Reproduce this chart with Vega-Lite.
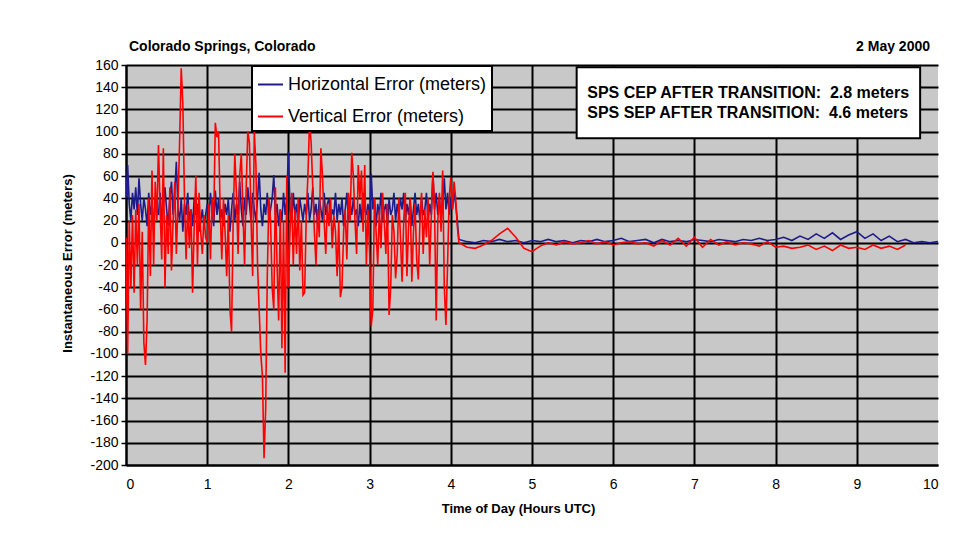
{
  "$schema": "https://vega.github.io/schema/vega-lite/v6.json",
  "width": 812,
  "height": 400,
  "autosize": {"type": "none"},
  "padding": {"left": 126, "top": 65, "right": 36, "bottom": 87},
  "background": "white",
  "resolve": {"axis": {"x": "independent", "y": "independent"}},
  "config": {
    "font": "Liberation Sans",
    "view": {"fill": "#c8c8c8", "stroke": null},
    "legend": {
      "orient": "none", "legendX": 126, "legendY": 1,
      "fillColor": "white", "strokeColor": "black", "strokeWidth": 2,
      "padding": 5, "rowPadding": 9, "labelFontSize": 18, "labelColor": "black", "labelLimit": 400,
      "symbolType": "stroke", "symbolSize": 625, "symbolStrokeWidth": 2, "labelOffset": 4,
      "title": null
    }
  },
  "layer": [
    {
      "data": {"values": [
        {"t":0.00,"h":40,"v":5},{"t":0.02,"h":70,"v":-100},{"t":0.04,"h":35,"v":20},{"t":0.06,"h":20,"v":-40},{"t":0.08,"h":45,"v":25},{"t":0.10,"h":30,"v":-45},{"t":0.12,"h":50,"v":30},{"t":0.14,"h":25,"v":-20},{"t":0.16,"h":58,"v":35},{"t":0.18,"h":35,"v":-60},
        {"t":0.20,"h":20,"v":10},{"t":0.22,"h":40,"v":-90},{"t":0.24,"h":30,"v":-110},{"t":0.26,"h":15,"v":-70},{"t":0.28,"h":45,"v":40},{"t":0.30,"h":25,"v":-30},{"t":0.32,"h":35,"v":65},{"t":0.34,"h":10,"v":-20},{"t":0.36,"h":40,"v":55},{"t":0.38,"h":30,"v":20},
        {"t":0.40,"h":25,"v":88},{"t":0.42,"h":45,"v":30},{"t":0.44,"h":20,"v":-15},{"t":0.46,"h":35,"v":85},{"t":0.48,"h":50,"v":-40},{"t":0.50,"h":30,"v":25},{"t":0.52,"h":15,"v":-10},{"t":0.54,"h":40,"v":50},{"t":0.56,"h":55,"v":-25},{"t":0.58,"h":25,"v":20},
        {"t":0.60,"h":45,"v":55},{"t":0.62,"h":73,"v":-10},{"t":0.64,"h":30,"v":35},{"t":0.66,"h":20,"v":90},{"t":0.68,"h":40,"v":157},{"t":0.70,"h":10,"v":125},{"t":0.72,"h":35,"v":40},{"t":0.74,"h":25,"v":-15},{"t":0.76,"h":45,"v":35},{"t":0.78,"h":20,"v":-5},
        {"t":0.80,"h":30,"v":30},{"t":0.82,"h":15,"v":-45},{"t":0.84,"h":40,"v":15},{"t":0.86,"h":25,"v":60},{"t":0.88,"h":35,"v":-20},{"t":0.90,"h":10,"v":45},{"t":0.92,"h":20,"v":10},{"t":0.94,"h":30,"v":-10},{"t":0.96,"h":15,"v":25},{"t":0.98,"h":25,"v":5},
        {"t":1.00,"h":35,"v":0},{"t":1.02,"h":20,"v":35},{"t":1.04,"h":45,"v":-15},{"t":1.06,"h":30,"v":40},{"t":1.08,"h":15,"v":20},{"t":1.10,"h":47,"v":108},{"t":1.12,"h":25,"v":95},{"t":1.14,"h":40,"v":100},{"t":1.16,"h":20,"v":30},{"t":1.18,"h":30,"v":-15},
        {"t":1.20,"h":15,"v":40},{"t":1.22,"h":35,"v":10},{"t":1.24,"h":25,"v":-30},{"t":1.26,"h":40,"v":25},{"t":1.28,"h":10,"v":-60},{"t":1.30,"h":30,"v":-80},{"t":1.32,"h":45,"v":20},{"t":1.34,"h":20,"v":80},{"t":1.36,"h":35,"v":45},{"t":1.38,"h":25,"v":-10},
        {"t":1.40,"h":55,"v":60},{"t":1.42,"h":30,"v":80},{"t":1.44,"h":15,"v":30},{"t":1.46,"h":40,"v":-20},{"t":1.48,"h":25,"v":50},{"t":1.50,"h":50,"v":100},{"t":1.52,"h":35,"v":90},{"t":1.54,"h":20,"v":20},{"t":1.56,"h":45,"v":-30},{"t":1.58,"h":30,"v":100},
        {"t":1.60,"h":20,"v":70},{"t":1.62,"h":40,"v":-20},{"t":1.64,"h":63,"v":-60},{"t":1.66,"h":30,"v":-100},{"t":1.68,"h":15,"v":-120},{"t":1.70,"h":35,"v":-194},{"t":1.72,"h":25,"v":-150},{"t":1.74,"h":45,"v":-30},{"t":1.76,"h":20,"v":40},{"t":1.78,"h":30,"v":20},
        {"t":1.80,"h":40,"v":-40},{"t":1.82,"h":61,"v":-60},{"t":1.84,"h":25,"v":50},{"t":1.86,"h":35,"v":-20},{"t":1.88,"h":15,"v":-70},{"t":1.90,"h":30,"v":30},{"t":1.92,"h":20,"v":-95},{"t":1.94,"h":45,"v":20},{"t":1.96,"h":25,"v":-117},{"t":1.98,"h":40,"v":60},
        {"t":2.00,"h":82,"v":-40},{"t":2.02,"h":30,"v":10},{"t":2.04,"h":20,"v":45},{"t":2.06,"h":45,"v":-20},{"t":2.08,"h":25,"v":30},{"t":2.10,"h":35,"v":-10},{"t":2.12,"h":15,"v":40},{"t":2.14,"h":40,"v":-25},{"t":2.16,"h":30,"v":20},{"t":2.18,"h":20,"v":-47},
        {"t":2.20,"h":35,"v":-45},{"t":2.22,"h":25,"v":25},{"t":2.24,"h":45,"v":60},{"t":2.26,"h":20,"v":108},{"t":2.28,"h":30,"v":90},{"t":2.30,"h":50,"v":50},{"t":2.32,"h":25,"v":10},{"t":2.34,"h":35,"v":-20},{"t":2.36,"h":15,"v":30},{"t":2.38,"h":40,"v":5},
        {"t":2.40,"h":30,"v":85},{"t":2.42,"h":20,"v":60},{"t":2.44,"h":45,"v":20},{"t":2.46,"h":25,"v":-10},{"t":2.48,"h":35,"v":35},{"t":2.50,"h":40,"v":15},{"t":2.52,"h":20,"v":40},{"t":2.54,"h":30,"v":-5},{"t":2.56,"h":25,"v":25},{"t":2.58,"h":45,"v":10},
        {"t":2.60,"h":20,"v":-30},{"t":2.62,"h":35,"v":20},{"t":2.64,"h":25,"v":-49},{"t":2.66,"h":40,"v":-40},{"t":2.68,"h":15,"v":10},{"t":2.70,"h":30,"v":30},{"t":2.72,"h":45,"v":-15},{"t":2.74,"h":20,"v":45},{"t":2.76,"h":35,"v":20},{"t":2.78,"h":25,"v":81},
        {"t":2.80,"h":40,"v":60},{"t":2.82,"h":25,"v":20},{"t":2.84,"h":30,"v":-10},{"t":2.86,"h":15,"v":70},{"t":2.88,"h":35,"v":40},{"t":2.90,"h":20,"v":65},{"t":2.92,"h":45,"v":10},{"t":2.94,"h":30,"v":70},{"t":2.96,"h":25,"v":-20},{"t":2.98,"h":35,"v":30},
        {"t":3.00,"h":20,"v":-10},{"t":3.02,"h":62,"v":-75},{"t":3.04,"h":30,"v":-60},{"t":3.06,"h":40,"v":40},{"t":3.08,"h":15,"v":10},{"t":3.10,"h":35,"v":-20},{"t":3.12,"h":25,"v":30},{"t":3.14,"h":45,"v":-5},{"t":3.16,"h":20,"v":45},{"t":3.18,"h":30,"v":20},
        {"t":3.20,"h":35,"v":-10},{"t":3.22,"h":15,"v":35},{"t":3.24,"h":40,"v":-65},{"t":3.26,"h":25,"v":-40},{"t":3.28,"h":30,"v":25},{"t":3.30,"h":45,"v":10},{"t":3.32,"h":20,"v":-32},{"t":3.34,"h":35,"v":-10},{"t":3.36,"h":25,"v":40},{"t":3.38,"h":40,"v":5},
        {"t":3.40,"h":30,"v":-35},{"t":3.42,"h":45,"v":20},{"t":3.44,"h":20,"v":45},{"t":3.46,"h":35,"v":-30},{"t":3.48,"h":25,"v":15},{"t":3.50,"h":40,"v":40},{"t":3.52,"h":15,"v":-35},{"t":3.54,"h":30,"v":10},{"t":3.56,"h":45,"v":35},{"t":3.58,"h":25,"v":-15},
        {"t":3.60,"h":35,"v":-33},{"t":3.62,"h":20,"v":20},{"t":3.64,"h":40,"v":45},{"t":3.66,"h":25,"v":-10},{"t":3.68,"h":30,"v":30},{"t":3.70,"h":45,"v":5},{"t":3.72,"h":20,"v":40},{"t":3.74,"h":35,"v":-20},{"t":3.76,"h":25,"v":25},{"t":3.78,"h":62,"v":64},
        {"t":3.80,"h":30,"v":30},{"t":3.82,"h":45,"v":-70},{"t":3.84,"h":25,"v":20},{"t":3.86,"h":40,"v":45},{"t":3.88,"h":20,"v":10},{"t":3.90,"h":35,"v":65},{"t":3.92,"h":58,"v":-40},{"t":3.94,"h":30,"v":-74},{"t":3.96,"h":45,"v":-20},{"t":3.98,"h":25,"v":40},
        {"t":4.00,"h":40,"v":59},{"t":4.02,"h":30,"v":30},{"t":4.04,"h":45,"v":55},{"t":4.06,"h":35,"v":40},{"t":4.08,"h":20,"v":15},{"t":4.10,"h":3,"v":0},
        {"t":4.2,"h":1,"v":-4},{"t":4.3,"h":0,"v":-5},{"t":4.4,"h":2,"v":-2},{"t":4.5,"h":1,"v":2},{"t":4.6,"h":3,"v":8},{"t":4.7,"h":1,"v":13},{"t":4.8,"h":2,"v":5},{"t":4.9,"h":0,"v":-5},
        {"t":5.0,"h":2,"v":-8},{"t":5.1,"h":1,"v":-3},{"t":5.2,"h":3,"v":0},{"t":5.3,"h":1,"v":-2},{"t":5.4,"h":2,"v":1},{"t":5.5,"h":0,"v":-1},{"t":5.6,"h":2,"v":0},{"t":5.7,"h":1,"v":2},{"t":5.8,"h":3,"v":-1},{"t":5.9,"h":1,"v":1},
        {"t":6.0,"h":2,"v":-2},{"t":6.1,"h":4,"v":0},{"t":6.2,"h":1,"v":1},{"t":6.3,"h":2,"v":-1},{"t":6.4,"h":3,"v":0},{"t":6.5,"h":0,"v":-3},{"t":6.6,"h":3,"v":2},{"t":6.7,"h":1,"v":-2},{"t":6.8,"h":2,"v":4},{"t":6.9,"h":1,"v":-3},
        {"t":7.0,"h":3,"v":5},{"t":7.1,"h":2,"v":-4},{"t":7.2,"h":1,"v":3},{"t":7.3,"h":3,"v":-2},{"t":7.4,"h":2,"v":1},{"t":7.5,"h":1,"v":-2},{"t":7.6,"h":3,"v":0},{"t":7.7,"h":2,"v":-1},{"t":7.8,"h":4,"v":-3},{"t":7.9,"h":2,"v":1},
        {"t":8.0,"h":3,"v":-4},{"t":8.1,"h":5,"v":-3},{"t":8.2,"h":2,"v":-5},{"t":8.3,"h":6,"v":-4},{"t":8.4,"h":3,"v":-2},{"t":8.5,"h":8,"v":-6},{"t":8.6,"h":4,"v":-3},{"t":8.7,"h":9,"v":-7},{"t":8.8,"h":3,"v":-2},{"t":8.9,"h":7,"v":-5},
        {"t":9.0,"h":10,"v":-4},{"t":9.1,"h":4,"v":-6},{"t":9.2,"h":8,"v":-2},{"t":9.3,"h":2,"v":-5},{"t":9.4,"h":6,"v":-3},{"t":9.5,"h":1,"v":-6},{"t":9.6,"h":3,"v":-2},{"t":9.7,"h":0,"v":null},{"t":9.8,"h":1,"v":null},{"t":9.9,"h":0,"v":null},{"t":10.0,"h":1,"v":null}
      ]},
      "transform": [
        {"fold": ["h", "v"], "as": ["k", "val"]},
        {"filter": {"field": "val", "valid": true}}
      ],
      "mark": {"type": "line", "strokeWidth": 1.6, "clip": true},
      "encoding": {
        "x": {
          "field": "t", "type": "quantitative",
          "scale": {"domain": [0, 10], "nice": false, "zero": false},
          "axis": {
            "title": "Time of Day (Hours UTC)", "values": [0,1,2,3,4,5,6,7,8,9,10],
            "labelExpr": "datum.value + ''", "labelOverlap": false,
            "tickSize": 0, "labelPadding": 12, "labelFontSize": 14, "labelColor": "black",
            "domainColor": "black", "domainWidth": 2,
            "gridColor": {"condition": {"test": "datum.value == 10", "value": "transparent"}, "value": "black"},
            "gridWidth": 2, "gridOpacity": 1,
            "titleFontSize": 13, "titleFontWeight": "bold", "titleColor": "black",
            "titleBaseline": "top", "titleY": 37, "titleX": 392, "titleAlign": "center", "titleAnchor": null
          }
        },
        "y": {
          "field": "val", "type": "quantitative",
          "scale": {"domain": [-200, 160], "nice": false, "zero": false},
          "axis": {
            "title": "Instantaneous Error (meters)",
            "values": [-200,-180,-160,-140,-120,-100,-80,-60,-40,-20,0,20,40,60,80,100,120,140,160],
            "labelExpr": "datum.value + ''", "labelOverlap": false,
            "tickSize": 5, "tickColor": "black", "tickWidth": 1.5, "labelPadding": 3,
            "labelFontSize": 14, "labelColor": "black",
            "domainColor": "black", "domainWidth": 2,
            "gridColor": "black", "gridWidth": 2, "gridOpacity": 1,
            "titleFontSize": 13, "titleFontWeight": "bold", "titleColor": "black",
            "titleAngle": -90, "titleBaseline": "middle", "titleAlign": "center",
            "titleX": -59, "titleY": 198, "titleAnchor": null
          }
        },
        "color": {
          "field": "k", "type": "nominal",
          "scale": {"domain": ["h", "v"], "range": ["#1c1c8a", "#ff0000"]},
          "legend": {"labelExpr": "datum.label == 'h' ? 'Horizontal Error (meters)' : 'Vertical Error (meters)'"}
        }
      }
    },
    {
      "data": {"values": [{}]},
      "mark": {"type": "rect", "fill": "white", "stroke": "black", "strokeWidth": 2},
      "encoding": {
        "x": {"datum": 5.55, "type": "quantitative", "axis": null},
        "x2": {"datum": 9.78},
        "y": {"datum": 158, "type": "quantitative", "axis": null},
        "y2": {"datum": 94}
      }
    },
    {
      "data": {"values": [{}]},
      "mark": {"type": "text", "align": "left", "baseline": "middle", "fontSize": 16, "fontWeight": "bold", "color": "black"},
      "encoding": {
        "x": {"datum": 5.68, "type": "quantitative", "axis": null},
        "y": {"datum": 135, "type": "quantitative", "axis": null},
        "text": {"value": "SPS CEP AFTER TRANSITION:\u00a0\u00a02.8 meters"}
      }
    },
    {
      "data": {"values": [{}]},
      "mark": {"type": "text", "align": "left", "baseline": "middle", "fontSize": 16, "fontWeight": "bold", "color": "black"},
      "encoding": {
        "x": {"datum": 5.68, "type": "quantitative", "axis": null},
        "y": {"datum": 117, "type": "quantitative", "axis": null},
        "text": {"value": "SPS SEP AFTER TRANSITION:\u00a0\u00a04.6 meters"}
      }
    },
    {
      "data": {"values": [{}]},
      "mark": {"type": "text", "align": "left", "baseline": "middle", "fontSize": 14, "fontWeight": "bold", "color": "black", "dx": 3},
      "encoding": {
        "x": {"datum": 0, "type": "quantitative", "axis": null},
        "y": {"datum": 176, "type": "quantitative", "axis": null},
        "text": {"value": "Colorado Springs, Colorado"}
      }
    },
    {
      "data": {"values": [{}]},
      "mark": {"type": "text", "align": "right", "baseline": "middle", "fontSize": 14, "fontWeight": "bold", "color": "black", "dx": -8},
      "encoding": {
        "x": {"datum": 10, "type": "quantitative", "axis": null},
        "y": {"datum": 176, "type": "quantitative", "axis": null},
        "text": {"value": "2 May 2000"}
      }
    }
  ]
}
